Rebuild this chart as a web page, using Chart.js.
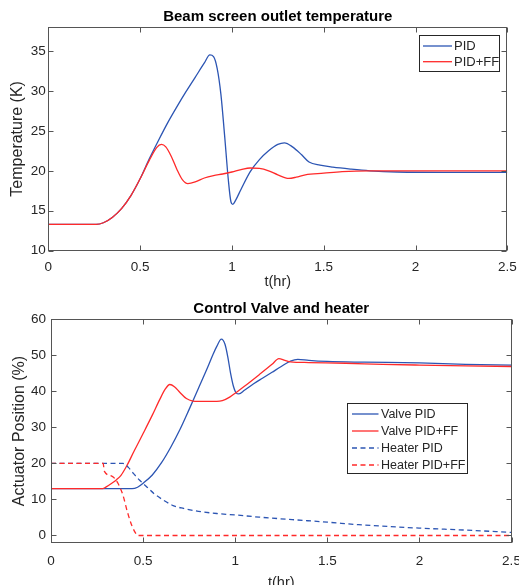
<!DOCTYPE html>
<html>
<head>
<meta charset="utf-8">
<script src="https://cdn.jsdelivr.net/npm/chart.js@4.4.0/dist/chart.umd.min.js"></script>
<style>
  html, body { margin: 0; padding: 0; background: #fff; }
  #wrap { position: relative; width: 519px; height: 585px; overflow: hidden; }
  canvas { position: absolute; left: 0; }
  #topChart { top: 0; }
  #botChart { top: 290px; }
</style>
</head>
<body>
<div id="wrap">
  <canvas id="topChart" width="519" height="290"></canvas>
  <canvas id="botChart" width="519" height="295"></canvas>
</div>
<script>
// ---- data ----
const xTicks = [0, 0.5, 1, 1.5, 2, 2.5];
const tempTicks = [10, 15, 20, 25, 30, 35];
const actTicks = [0, 10, 20, 30, 40, 50, 60];

// Beam screen outlet temperature, PID
const tTempPid = [0, 0.26, 0.3, 0.35, 0.4, 0.45, 0.5, 0.55, 0.6, 0.65, 0.7, 0.75, 0.8, 0.85, 0.88, 0.9, 0.92, 0.94, 0.96, 0.98, 0.995, 1.005, 1.02, 1.05, 1.1, 1.15, 1.2, 1.25, 1.286, 1.33, 1.38, 1.42, 1.48, 1.55, 1.65, 1.75, 1.9, 2.2, 2.5];
const tempPid  = [13.3, 13.3, 13.5, 14.2, 15.3, 16.9, 19.0, 21.5, 23.8, 26.0, 28.0, 29.9, 31.7, 33.5, 34.5, 34.3, 32.8, 29.6, 24.5, 19.0, 16.1, 15.8, 16.3, 17.7, 19.9, 21.4, 22.5, 23.3, 23.5, 23.0, 22.0, 21.1, 20.7, 20.45, 20.2, 20.0, 19.85, 19.8, 19.8];

// Beam screen outlet temperature, PID+FF
const tTempFf = [0, 0.26, 0.3, 0.35, 0.4, 0.45, 0.5, 0.55, 0.59, 0.616, 0.64, 0.67, 0.7, 0.73, 0.76, 0.8, 0.85, 0.9, 0.95, 1.0, 1.05, 1.1, 1.15, 1.2, 1.25, 1.31, 1.35, 1.4, 1.5, 1.6, 1.75, 2.0, 2.5];
const tempFf  = [13.3, 13.3, 13.5, 14.2, 15.3, 16.9, 19.0, 21.3, 22.9, 23.3, 23.0, 21.8, 20.2, 18.9, 18.4, 18.6, 19.1, 19.4, 19.6, 19.85, 20.15, 20.35, 20.3, 20.0, 19.5, 19.05, 19.2, 19.5, 19.7, 19.9, 20.0, 20.0, 20.0];

// Control valve, PID
const tValvePid = [0, 0.44, 0.47, 0.5, 0.55, 0.6, 0.65, 0.7, 0.75, 0.8, 0.85, 0.88, 0.9, 0.925, 0.945, 0.96, 0.975, 0.99, 1.005, 1.02, 1.05, 1.1, 1.15, 1.2, 1.25, 1.3, 1.34, 1.4, 1.5, 1.7, 2.0, 2.25, 2.5];
const valvePid  = [13, 13, 13.4, 14.5, 16.8, 20.2, 24.5, 29.4, 35.0, 40.8, 46.6, 50.3, 52.5, 54.5, 53.0, 49.5, 45.0, 41.5, 39.6, 39.3, 40.3, 42.1, 43.7, 45.3, 46.9, 48.4, 48.9, 48.6, 48.3, 48.1, 47.9, 47.5, 47.3];

// Control valve, PID+FF
const tValveFf = [0, 0.28, 0.3, 0.33, 0.356, 0.38, 0.41, 0.45, 0.5, 0.55, 0.59, 0.62, 0.645, 0.67, 0.7, 0.735, 0.77, 0.8, 0.9, 0.93, 0.97, 1.006, 1.05, 1.132, 1.2, 1.237, 1.27, 1.3, 1.4, 1.6, 1.8, 2.0, 2.25, 2.5];
const valveFf  = [13, 13, 13.5, 14.5, 15.5, 16.7, 19.2, 23.3, 28.3, 33.4, 37.7, 40.6, 41.9, 41.3, 39.7, 38.0, 37.3, 37.2, 37.2, 37.4, 38.4, 39.7, 41.4, 44.7, 47.5, 49.1, 48.6, 48.2, 48.0, 47.8, 47.5, 47.3, 47.1, 46.9];

// Heater, PID
const tHeaterPid = [0, 0.39, 0.42, 0.446, 0.48, 0.518, 0.56, 0.608, 0.663, 0.72, 0.8, 0.9, 1.0, 1.13, 1.31, 1.5, 1.67, 2.0, 2.25, 2.5];
const heaterPid  = [20, 20, 18.9, 17.3, 15.4, 13.6, 11.6, 9.9, 8.3, 7.5, 6.7, 6.1, 5.7, 5.1, 4.4, 3.7, 3.0, 2.05, 1.5, 0.85];

// Heater, PID+FF
const tHeaterFf = [0, 0.283, 0.29, 0.33, 0.36, 0.39, 0.415, 0.44, 0.465, 0.47, 2.5];
const heaterFf  = [20, 20, 17.8, 16.5, 14.8, 11.3, 6.5, 2.6, 0.2, 0, 0];

// ---- styling ----
const BLUE = '#2c55b3';
const RED = '#ff2a2a';
const INK = '#262626';
const AXIS = '#555555';
const FONT = "'Liberation Sans', Arial, Helvetica, sans-serif";

const pts = (ts, vs) => ts.map((t, i) => ({ x: t, y: vs[i] }));

const line = (label, ts, vs, color, dash, order) => ({
  label,
  data: pts(ts, vs),
  borderColor: color,
  backgroundColor: color,
  borderWidth: 1.3,
  borderDash: dash || [],
  pointRadius: 0,
  fill: false,
  cubicInterpolationMode: 'monotone',
  order
});

// box, inward ticks, title and legend drawn the matlab way
const matlabAxes = {
  id: 'matlabAxes',
  afterDraw(chart, args, opts) {
    const { ctx, chartArea: a, scales } = chart;
    const L = Math.round(a.left) + 0.5, R = Math.round(a.right) - 0.5;
    const T = Math.round(a.top) + 0.5, B = Math.round(a.bottom) - 0.5;
    ctx.save();
    ctx.strokeStyle = AXIS;
    ctx.lineWidth = 1;
    ctx.strokeRect(L, T, R - L, B - T);
    ctx.beginPath();
    scales.x.ticks.forEach(t => {
      const px = Math.round(scales.x.getPixelForValue(t.value)) + 0.5;
      ctx.moveTo(px, B); ctx.lineTo(px, B - 5);
      ctx.moveTo(px, T); ctx.lineTo(px, T + 5);
    });
    scales.y.ticks.forEach(t => {
      const py = Math.round(scales.y.getPixelForValue(t.value)) + 0.5;
      ctx.moveTo(L, py); ctx.lineTo(L + 5, py);
      ctx.moveTo(R, py); ctx.lineTo(R - 5, py);
    });
    ctx.stroke();

    // title
    ctx.fillStyle = '#000';
    ctx.font = 'bold 15px ' + FONT;
    ctx.textAlign = 'center';
    ctx.textBaseline = 'alphabetic';
    ctx.fillText(opts.title, (a.left + a.right) / 2, opts.titleY);

    // legend
    const lg = opts.legend;
    ctx.fillStyle = '#fff';
    ctx.fillRect(lg.x, lg.y, lg.w, lg.h);
    ctx.strokeStyle = INK;
    ctx.strokeRect(lg.x + 0.5, lg.y + 0.5, lg.w, lg.h);
    ctx.font = lg.size + 'px ' + FONT;
    ctx.textAlign = 'left';
    ctx.textBaseline = 'middle';
    chart.data.datasets.forEach((ds, i) => {
      const y = lg.y + lg.first + i * lg.row;
      ctx.strokeStyle = ds.borderColor;
      ctx.lineWidth = ds.borderWidth;
      ctx.setLineDash(ds.borderDash);
      ctx.beginPath();
      ctx.moveTo(lg.x + lg.lineX0, y);
      ctx.lineTo(lg.x + lg.lineX1, y);
      ctx.stroke();
      ctx.setLineDash([]);
      ctx.fillStyle = INK;
      ctx.fillText(ds.label, lg.x + lg.textX, y + 0.5);
    });
    ctx.restore();
  }
};

const makeScales = (cfg) => ({
  x: {
    type: 'linear',
    min: 0,
    max: 2.5,
    afterBuildTicks: s => { s.ticks = xTicks.map(v => ({ value: v })); },
    afterFit: s => { s.height = cfg.xHeight; s.paddingLeft = 0; s.paddingRight = 0; },
    grid: { display: false, drawTicks: false },
    border: { display: false },
    ticks: {
      color: INK,
      font: { family: FONT, size: 13.5 },
      padding: cfg.xPad,
      maxRotation: 0,
      autoSkip: false,
      callback: v => String(v)
    },
    title: {
      display: true,
      text: 't(hr)',
      color: INK,
      font: { family: FONT, size: 14.5, lineHeight: cfg.xTitleLH },
      padding: 0
    }
  },
  y: {
    type: 'linear',
    min: cfg.yMin,
    max: cfg.yMax,
    afterBuildTicks: s => { s.ticks = cfg.yTicks.map(v => ({ value: v })); },
    afterFit: s => { s.width = cfg.yWidth; s.paddingTop = 0; s.paddingBottom = 0; },
    grid: { display: false, drawTicks: false },
    border: { display: false },
    ticks: {
      color: INK,
      font: { family: FONT, size: 13.5 },
      padding: cfg.yPad,
      autoSkip: false,
      callback: v => String(v)
    },
    title: {
      display: true,
      text: cfg.yTitle,
      color: INK,
      font: { family: FONT, size: 16 },
      padding: { top: cfg.yTitlePad, bottom: 0 }
    }
  }
});

new Chart(document.getElementById('topChart'), {
  type: 'line',
  data: {
    datasets: [
      line('PID', tTempPid, tempPid, BLUE, null, 1),
      line('PID+FF', tTempFf, tempFf, RED, null, 0)
    ]
  },
  options: {
    responsive: false,
    animation: false,
    devicePixelRatio: 1,
    layout: { padding: { left: 0, top: 27, right: 11.7, bottom: 0 } },
    scales: makeScales({
      xHeight: 39.3, xPad: 8, xTitleLH: 1.1,
      yMin: 10, yMax: 38, yTicks: tempTicks, yWidth: 48.3, yPad: 2.5,
      yTitle: 'Temperature (K)', yTitlePad: 8
    }),
    plugins: {
      legend: { display: false },
      tooltip: { enabled: false },
      matlabAxes: {
        title: 'Beam screen outlet temperature',
        titleY: 21,
        legend: { x: 419, y: 35, w: 80, h: 36, size: 13, first: 11, row: 15.7, lineX0: 4, lineX1: 33, textX: 35 }
      }
    }
  },
  plugins: [matlabAxes]
});

new Chart(document.getElementById('botChart'), {
  type: 'line',
  data: {
    datasets: [
      line('Valve PID', tValvePid, valvePid, BLUE, null, 3),
      line('Valve PID+FF', tValveFf, valveFf, RED, null, 2),
      line('Heater PID', tHeaterPid, heaterPid, BLUE, [5, 3.5], 1),
      line('Heater PID+FF', tHeaterFf, heaterFf, RED, [5, 3.5], 0)
    ]
  },
  options: {
    responsive: false,
    animation: false,
    devicePixelRatio: 1,
    layout: { padding: { left: 0, top: 29.3, right: 7.5, bottom: 0 } },
    scales: makeScales({
      xHeight: 42.3, xPad: 10.5, xTitleLH: 0.3,
      yMin: -2, yMax: 60, yTicks: actTicks, yWidth: 51, yPad: 5,
      yTitle: 'Actuator Position (%)', yTitlePad: 10.4
    }),
    plugins: {
      legend: { display: false },
      tooltip: { enabled: false },
      matlabAxes: {
        title: 'Control Valve and heater',
        titleY: 23,
        legend: { x: 347, y: 113, w: 120, h: 70, size: 12.5, first: 11, row: 17, lineX0: 5, lineX1: 31.5, textX: 34 }
      }
    }
  },
  plugins: [matlabAxes]
});
</script>
</body>
</html>
